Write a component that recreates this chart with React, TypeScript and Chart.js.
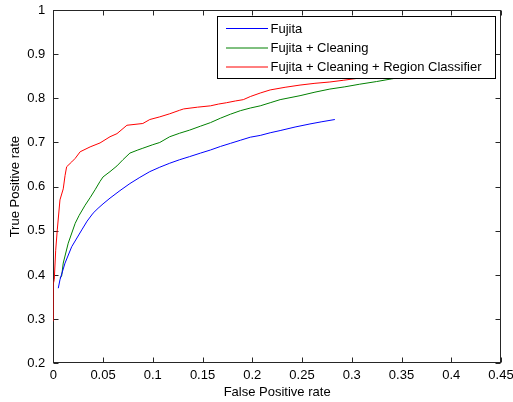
import React, { useEffect, useRef } from "react";
import { Chart, registerables } from "chart.js";
Chart.register(...registerables);

const xTicks = [0, 0.05, 0.1, 0.15, 0.2, 0.25, 0.3, 0.35, 0.4, 0.45];
const yTicks = [0.2, 0.3, 0.4, 0.5, 0.6, 0.7, 0.8, 0.9, 1];

const seriesNames = ["Fujita", "Fujita + Cleaning", "Fujita + Cleaning + Region Classifier"];
const seriesColors = ["#0000ff", "#008000", "#ff0000"];

const blueX = [0.005, 0.0067, 0.0118, 0.0185, 0.0286, 0.034, 0.04, 0.045, 0.05, 0.057, 0.067, 0.077, 0.087, 0.097, 0.107, 0.117, 0.127, 0.137, 0.148, 0.158, 0.168, 0.178, 0.188, 0.198, 0.208, 0.218, 0.228, 0.243, 0.258, 0.27, 0.283];
const blueY = [0.37, 0.389, 0.427, 0.464, 0.502, 0.522, 0.54, 0.551, 0.561, 0.574, 0.591, 0.607, 0.621, 0.634, 0.644, 0.653, 0.661, 0.668, 0.676, 0.683, 0.691, 0.698, 0.705, 0.712, 0.716, 0.722, 0.727, 0.735, 0.742, 0.747, 0.752];

const greenX = [0.0067, 0.0084, 0.01, 0.015, 0.022, 0.026, 0.032, 0.037, 0.042, 0.047, 0.05, 0.057, 0.064, 0.07, 0.077, 0.085, 0.09, 0.1, 0.107, 0.117, 0.127, 0.137, 0.148, 0.158, 0.168, 0.178, 0.188, 0.198, 0.208, 0.218, 0.228, 0.248, 0.263, 0.278, 0.293, 0.308, 0.325, 0.34, 0.36];
const greenY = [0.393, 0.398, 0.427, 0.472, 0.517, 0.535, 0.558, 0.575, 0.593, 0.612, 0.622, 0.634, 0.647, 0.661, 0.676, 0.683, 0.687, 0.695, 0.7, 0.713, 0.721, 0.728, 0.737, 0.745, 0.755, 0.764, 0.772, 0.778, 0.783, 0.79, 0.797, 0.806, 0.814, 0.821, 0.826, 0.832, 0.838, 0.844, 0.852];

const redX = [0, 0, 0.001, 0.0024, 0.004, 0.0067, 0.01, 0.0118, 0.0134, 0.0185, 0.022, 0.027, 0.037, 0.047, 0.057, 0.064, 0.074, 0.09, 0.097, 0.107, 0.117, 0.127, 0.131, 0.145, 0.158, 0.166, 0.174, 0.183, 0.191, 0.198, 0.208, 0.218, 0.233, 0.248, 0.263, 0.278, 0.292, 0.305, 0.32];
const redY = [0.295, 0.38, 0.39, 0.456, 0.502, 0.57, 0.595, 0.625, 0.645, 0.656, 0.664, 0.679, 0.69, 0.699, 0.713, 0.72, 0.739, 0.743, 0.752, 0.758, 0.765, 0.773, 0.776, 0.78, 0.783, 0.787, 0.79, 0.794, 0.797, 0.804, 0.812, 0.819, 0.825, 0.83, 0.834, 0.837, 0.841, 0.845, 0.852];

const FONT_FAMILY = "'Liberation Sans', Arial, Helvetica, sans-serif";
const font = { family: FONT_FAMILY, size: 13 };
const TEXT = "#000000";
const AXIS = "#262626";

const toPoints = (xs: number[], ys: number[]) => xs.map((x, i) => ({ x, y: ys[i] }));
const fmt = (v: number) => String(Number(v.toFixed(2)));

const framePlugin = {
  id: "matlabFrame",
  beforeDatasetsDraw(chart: any) {
    const { ctx, chartArea: a, scales } = chart;
    ctx.save();
    ctx.strokeStyle = AXIS;
    ctx.lineWidth = 1;
    const L = Math.round(a.left) + 0.5;
    const R = Math.round(a.right) - 0.5;
    const T = Math.round(a.top) + 0.5;
    const B = Math.round(a.bottom) - 0.5;
    ctx.beginPath();
    for (const v of xTicks) {
      const px = Math.round(scales.x.getPixelForValue(v)) + 0.5;
      ctx.moveTo(px, B); ctx.lineTo(px, B - 5);
      ctx.moveTo(px, T); ctx.lineTo(px, T + 5);
    }
    for (const v of yTicks) {
      const py = Math.round(scales.y.getPixelForValue(v)) + 0.5;
      ctx.moveTo(L, py); ctx.lineTo(L + 5, py);
      ctx.moveTo(R, py); ctx.lineTo(R - 5, py);
    }
    ctx.stroke();
    ctx.strokeRect(L, T, R - L, B - T);
    ctx.restore();
  },
  afterDraw(chart: any) {
    const { ctx } = chart;
    ctx.save();
    ctx.lineWidth = 1;
    const lx = 217.5, ly = 16.5, lw = 278, lh = 62;
    ctx.fillStyle = "#ffffff";
    ctx.fillRect(lx, ly, lw, lh);
    ctx.strokeStyle = "#000000";
    ctx.strokeRect(lx, ly, lw, lh);
    const rows = [28, 47.5, 66.5];
    ctx.font = `13px ${FONT_FAMILY}`;
    ctx.textBaseline = "middle";
    ctx.textAlign = "left";
    seriesNames.forEach((name, i) => {
      ctx.strokeStyle = seriesColors[i];
      ctx.beginPath();
      ctx.moveTo(226, rows[i] + 0.5);
      ctx.lineTo(268, rows[i] + 0.5);
      ctx.stroke();
      ctx.fillStyle = TEXT;
      ctx.fillText(name, 270.5, rows[i] + 1);
    });
    ctx.restore();
  },
};

export default function App() {
  const ref = useRef<HTMLCanvasElement>(null);
  useEffect(() => {
    document.body.style.margin = "0";
    const datasets = [
      toPoints(blueX, blueY),
      toPoints(greenX, greenY),
      toPoints(redX, redY),
    ].map((data, i) => ({
      label: seriesNames[i],
      data,
      showLine: true,
      borderColor: seriesColors[i],
      backgroundColor: seriesColors[i],
      borderWidth: 1,
      pointRadius: 0,
      tension: 0,
    }));
    const chart = new Chart(ref.current as HTMLCanvasElement, {
      type: "scatter",
      data: { datasets },
      options: {
        animation: false,
        responsive: false,
        devicePixelRatio: 1,
        layout: { padding: { left: 0, right: 12, top: 10, bottom: 0 } },
        plugins: { legend: { display: false }, tooltip: { enabled: false } },
        scales: {
          x: {
            type: "linear",
            min: 0,
            max: 0.45,
            afterBuildTicks: (s: any) => { s.ticks = xTicks.map((v) => ({ value: v })); },
            afterFit: (s: any) => { s.height = 38.7; s.paddingLeft = 0; s.paddingRight = 0; },
            grid: { display: false, drawTicks: false },
            border: { display: false },
            ticks: { padding: 4, font, color: TEXT, maxRotation: 0, autoSkip: false, callback: (v: any) => fmt(Number(v)) },
            title: { display: true, text: "False Positive rate", font, color: TEXT, padding: { top: 0, bottom: 2 } },
          },
          y: {
            type: "linear",
            min: 0.2,
            max: 1,
            afterBuildTicks: (s: any) => { s.ticks = yTicks.map((v) => ({ value: v })); },
            afterFit: (s: any) => { s.width = 53.3; s.paddingTop = 0; s.paddingBottom = 0; },
            grid: { display: false, drawTicks: false },
            border: { display: false },
            ticks: { padding: 8, font, color: TEXT, autoSkip: false, callback: (v: any) => fmt(Number(v)) },
            title: { display: true, text: "True Positive rate", font, color: TEXT, padding: { top: 8, bottom: 0 } },
          },
        },
      },
      plugins: [framePlugin],
    } as any);
    return () => chart.destroy();
  }, []);
  return (
    <div style={{ position: "absolute", left: 0, top: 0, width: 513, height: 402 }}>
      <canvas ref={ref} width={513} height={402} style={{ display: "block" }} />
    </div>
  );
}
